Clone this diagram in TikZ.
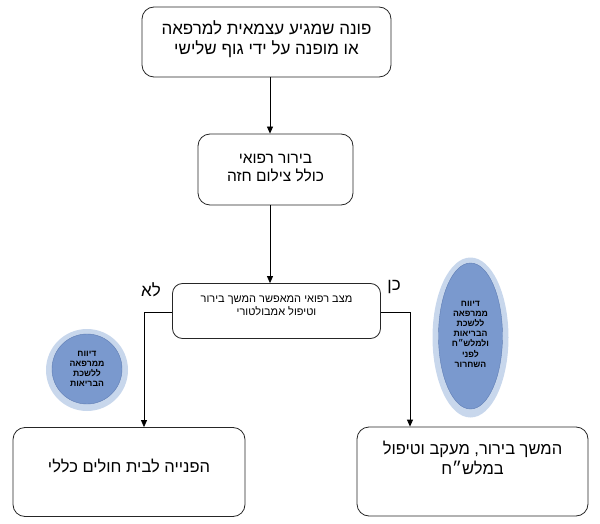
\documentclass[tikz,border=0pt]{standalone}
\usepackage{fontspec}
\TeXXeTstate=1
\newfontfamily\heb[Script=Hebrew]{Liberation Sans}
\usetikzlibrary{arrows.meta,shapes.geometric}
\definecolor{outerblue}{RGB}{200,215,236}
\definecolor{innerblue}{RGB}{122,153,206}
\definecolor{edgeblue}{RGB}{95,125,180}
\begin{document}
\begin{tikzpicture}[x=1pt,y=-1pt,
  box/.style={draw=black!85,line width=0.8pt,rounded corners=12pt,fill=white},
  conn/.style={draw=black,line width=0.8pt,-{Triangle[length=7pt,width=6pt]}},
  lbl/.style={font=\heb\fontsize{16.5}{20}\selectfont,align=center,inner sep=0pt},
  lbltop/.style={font=\heb\fontsize{17}{20}\selectfont,align=center,inner sep=0pt},
  lblmid/.style={font=\heb\fontsize{15.5}{18}\selectfont,align=center,inner sep=0pt},
  small/.style={font=\heb\fontsize{11}{13.5}\selectfont,align=center,inner sep=0pt},
  rep/.style={font=\heb\bfseries\fontsize{8.7}{10.2}\selectfont,align=center,inner sep=0pt}]
\useasboundingbox (0,0) rectangle (600,524);
% boxes
\node[box,minimum width=249pt,minimum height=70pt] (b1) at (266.5,42) {};
\node[lbltop] (t1) at (266.5,39) {\beginR פונה שמגיע עצמאית למרפאה\endR\\\beginR או מופנה על ידי גוף שלישי\endR};
\node[box,minimum width=155pt,minimum height=71pt] (b2) at (275.5,169.5) {};
\node[lblmid] (t2) at (275.5,168) {\beginR בירור רפואי\endR\\\beginR כולל צילום חזה\endR};
\node[box,minimum width=208pt,minimum height=55pt,rounded corners=10pt] (b3) at (276.5,311) {};
\node[small] (t3) at (276.5,306) {\beginR מצב רפואי המאפשר המשך בירור\endR\\\beginR וטיפול אמבולטורי\endR};
\node[box,minimum width=232pt,minimum height=89pt] (b4) at (129,472) {};
\node[lbl] (t4) at (129,466) {\beginR הפנייה לבית חולים כללי\endR};
\node[box,minimum width=231pt,minimum height=89pt] (b5) at (472.5,471.5) {};
\node[lbl] (t5) at (472.5,458) {\beginR המשך בירור, מעקב וטיפול\endR\\\beginR במלש״ח\endR};
% labels
\node[font=\heb\fontsize{17}{19}\selectfont,inner sep=0pt] (no) at (151,290) {\beginR לא\endR};
\node[font=\heb\fontsize{17}{19}\selectfont,inner sep=0pt] (yes) at (394,287) {\beginR כן\endR};
% report ellipses
\node[ellipse,fill=outerblue,minimum width=76pt,minimum height=160pt,inner sep=0pt] (e1o) at (470.5,337.5) {};
\node[ellipse,fill=innerblue,draw=edgeblue,line width=0.4pt,minimum width=64pt,minimum height=146pt,inner sep=0pt] (e1) at (470.5,336) {};
\node[rep] (r1) at (470.5,334) {\beginR דיווח\endR\\\beginR ממרפאה\endR\\\beginR ללשכת\endR\\\beginR הבריאות\endR\\\beginR ולמלש״ח\endR\\\beginR לפני\endR\\\beginR השחרור\endR};
\node[circle,fill=outerblue,minimum size=82pt,inner sep=0pt] (e2o) at (87,370) {};
\node[circle,fill=innerblue,draw=edgeblue,line width=0.4pt,minimum size=70pt,inner sep=0pt] (e2) at (87,369) {};
\node[rep] (r2) at (87,369) {\beginR דיווח\endR\\\beginR ממרפאה\endR\\\beginR ללשכת\endR\\\beginR הבריאות\endR};
% connectors
\draw[conn] (b1.south -| 270,0) -- (b2.north -| 270,0);
\draw[conn] (b2.south -| 270,0) -- (b3.north -| 270,0);
\coordinate (lc) at (144,312);
\coordinate (rc) at (410,312);
\draw[conn] (b3.west |- lc) -- (lc) -- (b4.north -| lc);
\draw[conn] (b3.east |- rc) -- (rc) -- (b5.north -| rc);
\end{tikzpicture}
\end{document}
